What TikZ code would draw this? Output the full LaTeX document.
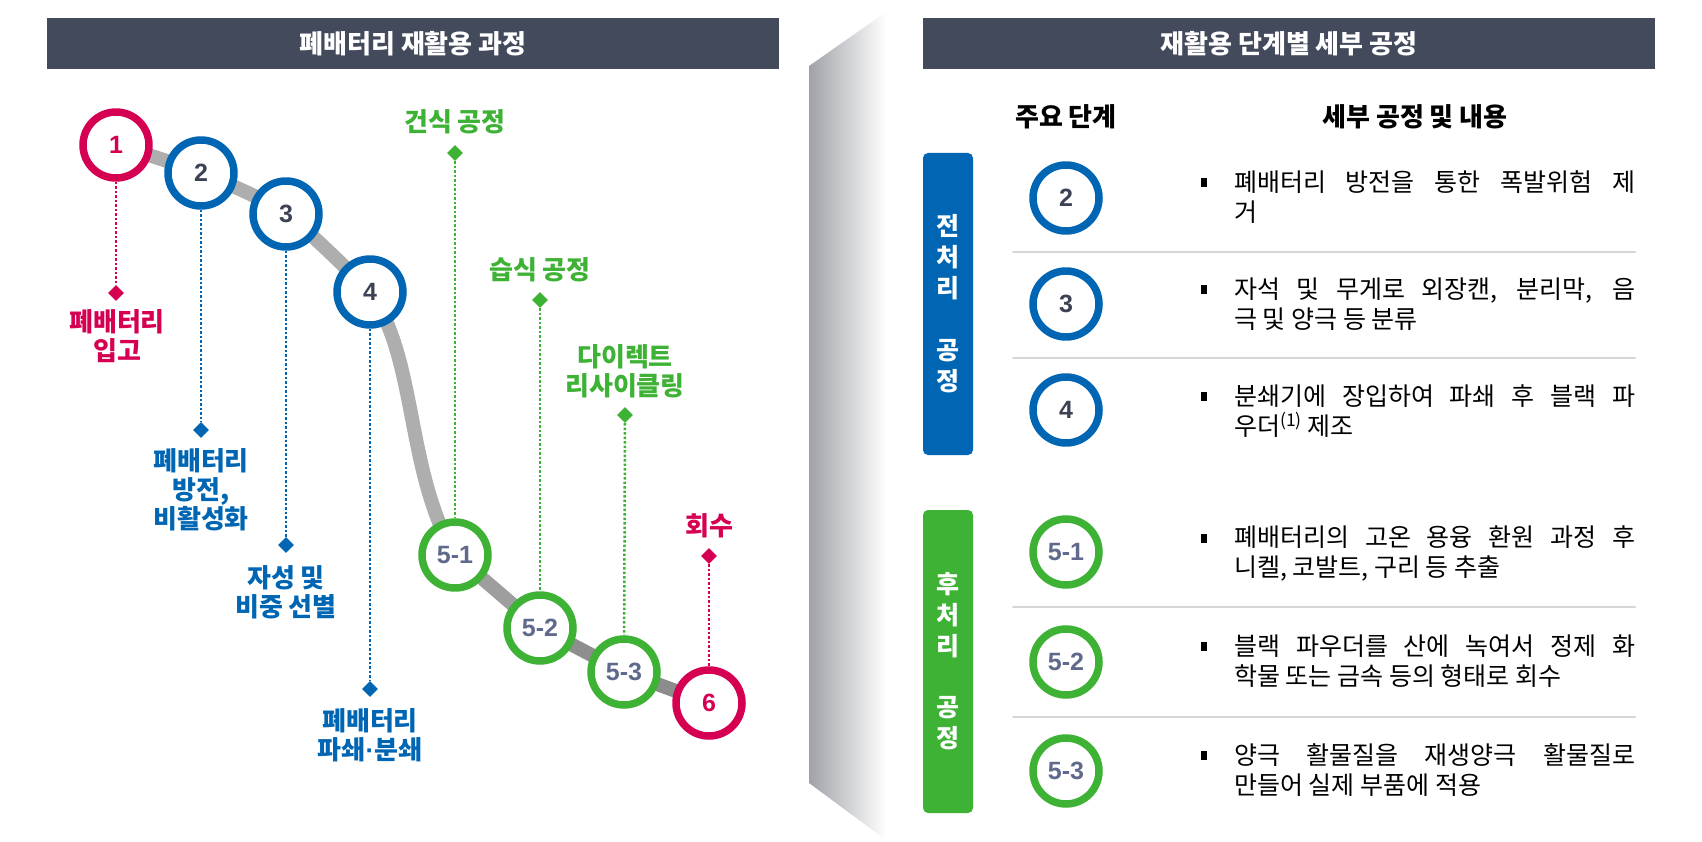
\documentclass[tikz,border=0pt]{standalone}
\usepackage{fontspec}
\setmainfont{Noto Sans CJK KR}
\newfontfamily\numfont{Liberation Sans}
\usetikzlibrary{shapes.geometric}
\definecolor{hdr}{RGB}{67,74,92}
\definecolor{redc}{RGB}{214,0,82}
\definecolor{bluec}{RGB}{0,102,179}
\definecolor{greenc}{RGB}{62,178,53}
\definecolor{numc}{RGB}{60,66,84}
\definecolor{subc}{RGB}{95,105,140}
\definecolor{trackc}{RGB}{174,174,174}
\definecolor{trackm}{RGB}{158,158,158}
\definecolor{trackd}{RGB}{140,140,140}
\definecolor{sepc}{RGB}{214,214,214}
\definecolor{shadec}{RGB}{160,162,168}
\tikzset{
  ring/.style={circle,draw,fill=white,line width=7.5pt,minimum size=66pt,inner sep=0pt,font=\numfont\bfseries\fontsize{25}{25}\selectfont},
  tip/.style={diamond,fill,inner sep=0pt,minimum size=16pt},
  dotline/.style={line width=2.5pt,dash pattern=on 2.5pt off 2pt,line cap=butt},
  track/.style={line width=14pt,line cap=butt},
  lab/.style={align=center,inner sep=0pt,font=\bfseries\fontsize{26}{29}\selectfont},
  hdrtext/.style={text=white,font=\bfseries\fontsize{26}{30}\selectfont},
  coltext/.style={font=\bfseries\fontsize{26}{30}\selectfont},
  body/.style={anchor=west,align=left,inner sep=0pt,font=\fontsize{25}{30}\selectfont},
  tag/.style={rounded corners=5pt,text=white,align=center,inner sep=0pt,minimum width=50pt,font=\bfseries\fontsize{25}{31}\selectfont},
}
\begin{document}
\begin{tikzpicture}[line cap=round,line join=round,x=1pt,y=-1pt]
\useasboundingbox (0,0) rectangle (1702,842);
\shade[left color=shadec,right color=white] (809,66) -- (886,12) -- (886,840) -- (809,783) -- cycle;
\fill[hdr] (47,18) rectangle (779,69);
\fill[hdr] (923,18) rectangle (1655,69);
\node[hdrtext] (h1) at (413,44) {폐배터리 재활용 과정};
\node[hdrtext] (h2) at (1289,44) {재활용 단계별 세부 공정};
\coordinate (p1) at (116,145);
\coordinate (p2) at (201,173);
\coordinate (p3) at (286,214);
\coordinate (p4) at (370,292);
\coordinate (p51) at (455,555);
\coordinate (p52) at (540,628);
\coordinate (p53) at (624,672);
\coordinate (p6) at (709,703);
\draw[track,trackc] plot[smooth,tension=0.5] coordinates {(p1) (p2) (p3) (p4)};
\draw[track,trackc] (p4) .. controls (418,360) and (405,470) .. (p51);
\draw[track,trackm] (p51) -- (p52);
\draw[track,trackd!90!trackm] (p52) -- (p53);
\draw[track,trackd] (p53) -- (p6);
\node[ring,draw=redc,text=redc] (c1) at (p1) {1};
\node[ring,draw=bluec,text=numc] (c2) at (p2) {2};
\node[ring,draw=bluec,text=numc] (c3) at (p3) {3};
\node[ring,draw=bluec,text=numc] (c4) at (p4) {4};
\node[ring,draw=greenc,text=subc] (c51) at (p51) {5-1};
\node[ring,draw=greenc,text=subc] (c52) at (p52) {5-2};
\node[ring,draw=greenc,text=subc] (c53) at (p53) {5-3};
\node[ring,draw=redc,text=redc] (c6) at (p6) {6};
\node[tip,redc] (d1) at (116,293) {};
\node[tip,bluec] (d2) at (201,430) {};
\node[tip,bluec] (d3) at (286,545) {};
\node[tip,bluec] (d4) at (370,689) {};
\node[tip,greenc] (d51) at (455,153) {};
\node[tip,greenc] (d52) at (540,300) {};
\node[tip,greenc] (d53) at (625,415) {};
\node[tip,redc] (d6) at (709,556) {};
\draw[dotline,redc] (c1) -- (d1);
\draw[dotline,bluec] (c2) -- (d2);
\draw[dotline,bluec] (c3) -- (d3);
\draw[dotline,bluec] (c4) -- (d4);
\draw[dotline,greenc] (d51) -- (c51);
\draw[dotline,greenc] (d52) -- (c52);
\draw[dotline,greenc] (d53) -- (c53);
\draw[dotline,redc] (d6) -- (c6);
\node[lab,text=redc] (l1) at (117,336) {폐배터리\\입고};
\node[lab,text=bluec] (l2) at (201,490) {폐배터리\\방전,\\비활성화};
\node[lab,text=bluec] (l3) at (286,592) {자성 및\\비중 선별};
\node[lab,text=bluec] (l4) at (370,735) {폐배터리\\파쇄{\numfont\bfseries ·}분쇄};
\node[lab,text=greenc] (l51) at (455,122) {건식 공정};
\node[lab,text=greenc] (l52) at (540,270) {습식 공정};
\node[lab,text=greenc] (l53) at (625,371) {다이렉트\\리사이클링};
\node[lab,text=redc] (l6) at (709,526) {회수};
\node[coltext] (k1) at (1066,117) {주요 단계};
\node[coltext] (k2) at (1415,117) {세부 공정 및 내용};
\node[tag,fill=bluec,minimum height=302pt] (t1) at (948,304) {전\\처\\리\\[31pt]공\\정};
\node[tag,fill=greenc,minimum height=303pt] (t2) at (948,661.5) {후\\처\\리\\[30pt]공\\정};
\node[ring,draw=bluec,text=numc] (r2) at (1066,198) {2};
\node[ring,draw=bluec,text=numc] (r3) at (1066,304) {3};
\node[ring,draw=bluec,text=numc] (r4) at (1066,410) {4};
\node[ring,draw=greenc,text=subc] (r51) at (1066,552) {5-1};
\node[ring,draw=greenc,text=subc] (r52) at (1066,662) {5-2};
\node[ring,draw=greenc,text=subc] (r53) at (1066,771) {5-3};
\draw[sepc,line width=2pt] (1013,252) -- (1635,252);
\draw[sepc,line width=2pt] (1013,358) -- (1635,358);
\draw[sepc,line width=2pt] (1013,607) -- (1635,607);
\draw[sepc,line width=2pt] (1013,717) -- (1635,717);
\fill (1201,178) rectangle (1207,187);
\fill (1201,285) rectangle (1207,294);
\fill (1201,392) rectangle (1207,401);
\fill (1201,534) rectangle (1207,543);
\fill (1201,642) rectangle (1207,651);
\fill (1201,751) rectangle (1207,760);
\node[body] (b2) at (1234,197) {\makebox[401pt][s]{폐배터리 방전을 통한 폭발위험 제}\\거};
\node[body] (b3) at (1234,304) {\makebox[401pt][s]{자석 및 무게로 외장캔, 분리막, 음}\\극 및 양극 등 분류};
\node[body] (b4) at (1234,411) {\makebox[401pt][s]{분쇄기에 장입하여 파쇄 후 블랙 파}\\우더\textsuperscript{(1)} 제조};
\node[body] (b51) at (1234,553) {\makebox[401pt][s]{폐배터리의 고온 용융 환원 과정 후}\\니켈, 코발트, 구리 등 추출};
\node[body] (b52) at (1234,661) {\makebox[401pt][s]{블랙 파우더를 산에 녹여서 정제 화}\\학물 또는 금속 등의 형태로 회수};
\node[body] (b53) at (1234,770) {\makebox[401pt][s]{양극 활물질을 재생양극 활물질로}\\만들어 실제 부품에 적용};
\end{tikzpicture}
\end{document}
